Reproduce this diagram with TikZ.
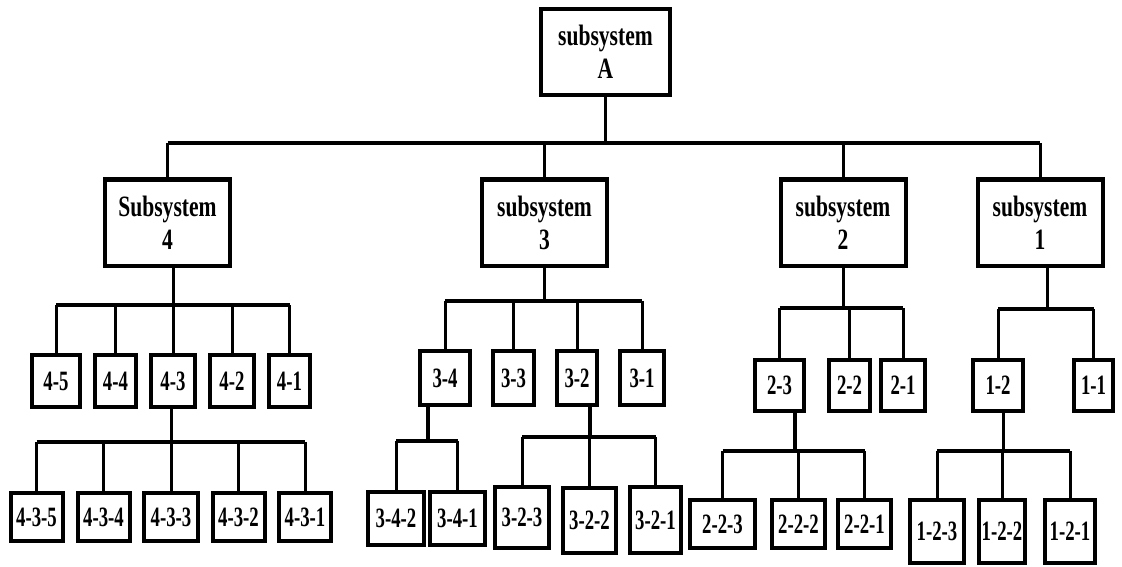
\documentclass[tikz,border=0pt]{standalone}
\usepackage{fontspec}
\newfontfamily\narrowfont[FakeStretch=0.73]{Liberation Serif}
\newfontfamily\slimfont[FakeStretch=0.67]{Liberation Serif}
\tikzset{
  bigbox/.style={draw, line width=4pt, minimum width=125pt, minimum height=86pt, inner sep=0pt,
    align=center, font=\narrowfont\bfseries\fontsize{29.5}{33}\selectfont},
  smallbox/.style={draw, line width=4pt, minimum width=44pt, minimum height=52pt, inner sep=0pt,
    font=\slimfont\bfseries\fontsize{28}{28}\selectfont},
  link/.style={line width=3pt},
  bus/.style={line width=4.5pt}
}
\begin{document}
\begin{tikzpicture}[x=1pt,y=-1pt]
  \useasboundingbox (0,0) rectangle (1122,567);
  %% top box
  \node[bigbox, minimum width=129pt] (sA) at (605.5,52) {subsystem\\A};
  %% subsystems
  \node[bigbox] (s4) at (167.5,222.5) {Subsystem\\4};
  \node[bigbox] (s3) at (544.5,222.5) {subsystem\\3};
  \node[bigbox] (s2) at (843,222.5) {subsystem\\2};
  \node[bigbox] (s1) at (1040,222.5) {subsystem\\1};
  %% second level
  \node[smallbox, minimum width=48pt] (b45) at (56,381) {4-5};
  \node[smallbox, minimum width=41pt] (b44) at (115.5,381) {4-4};
  \node[smallbox] (b43) at (173,381) {4-3};
  \node[smallbox] (b42) at (232,381) {4-2};
  \node[smallbox, minimum width=41pt] (b41) at (289.5,381) {4-1};
  \node[smallbox, minimum width=50pt, minimum height=54pt] (b34) at (445,378) {3-4};
  \node[smallbox, minimum width=41pt, minimum height=54pt] (b33) at (513.5,378) {3-3};
  \node[smallbox, minimum width=40pt, minimum height=54pt] (b32) at (577,378) {3-2};
  \node[smallbox, minimum height=54pt] (b31) at (642,378) {3-1};
  \node[smallbox, minimum width=49pt, minimum height=51pt] (b23) at (779.5,385.5) {2-3};
  \node[smallbox, minimum width=41pt, minimum height=51pt] (b22) at (849.5,385.5) {2-2};
  \node[smallbox, minimum height=51pt] (b21) at (903,385.5) {2-1};
  \node[smallbox, minimum width=50pt, minimum height=51pt] (b12) at (998,385.5) {1-2};
  \node[smallbox, minimum width=39pt, minimum height=51pt] (b11) at (1093.5,385.5) {1-1};
  %% third level
  \node[smallbox, minimum width=52pt, minimum height=48pt] (b435) at (36.5,517) {4-3-5};
  \node[smallbox, minimum width=52pt, minimum height=48pt] (b434) at (103.5,517) {4-3-4};
  \node[smallbox, minimum width=54pt, minimum height=48pt] (b433) at (171,517) {4-3-3};
  \node[smallbox, minimum width=52pt, minimum height=48pt] (b432) at (238.5,517) {4-3-2};
  \node[smallbox, minimum width=52pt, minimum height=48pt] (b431) at (305,517) {4-3-1};
  \node[smallbox, minimum width=56pt, minimum height=53pt] (b342) at (396,518.5) {3-4-2};
  \node[smallbox, minimum width=55pt, minimum height=53pt] (b341) at (457.5,518.5) {3-4-1};
  \node[smallbox, minimum width=54pt, minimum height=61pt] (b323) at (522,517.5) {3-2-3};
  \node[smallbox, minimum width=53pt, minimum height=65pt] (b322) at (589.5,520.5) {3-2-2};
  \node[smallbox, minimum width=51pt, minimum height=66pt] (b321) at (655.5,520) {3-2-1};
  \node[smallbox, minimum width=65pt, minimum height=48pt] (b223) at (722.5,524) {2-2-3};
  \node[smallbox, minimum width=53pt, minimum height=48pt] (b222) at (798.5,524) {2-2-2};
  \node[smallbox, minimum width=53pt, minimum height=48pt] (b221) at (864.5,524) {2-2-1};
  \node[smallbox, minimum width=54pt, minimum height=63pt] (b123) at (937,531.5) {1-2-3};
  \node[smallbox, minimum width=46pt, minimum height=63pt] (b122) at (1002,531.5) {1-2-2};
  \node[smallbox, minimum width=50pt, minimum height=63pt] (b121) at (1070,531.5) {1-2-1};
  %% junctions
  \coordinate (jA) at (605,143);
  \coordinate (j4) at (173,305);
  \coordinate (j3) at (544,301);
  \coordinate (j2) at (843,308);
  \coordinate (j1) at (1047,309);
  \coordinate (j43) at (171,442);
  \coordinate (j34) at (428,441);
  \coordinate (j32) at (590,437);
  \coordinate (j23) at (795,451);
  \coordinate (j12) at (1003,451);
  %% edges
  \draw[link] (jA |- sA.south) -- (jA);
  \draw[bus] (s4 |- jA) -- (s1 |- jA);
  \foreach \n in {s4,s3,s2,s1} \draw[link] (\n |- jA) -- (\n);
  \draw[link] (j4 |- s4.south) -- (j4);
  \draw[bus] (b45 |- j4) -- (b41 |- j4);
  \foreach \n in {b45,b44,b43,b42,b41} \draw[link] (\n |- j4) -- (\n);
  \draw[link] (j3 |- s3.south) -- (j3);
  \draw[bus] (b34 |- j3) -- (b31 |- j3);
  \foreach \n in {b34,b33,b32,b31} \draw[link] (\n |- j3) -- (\n);
  \draw[link] (j2 |- s2.south) -- (j2);
  \draw[bus] (b23 |- j2) -- (b21 |- j2);
  \foreach \n in {b23,b22,b21} \draw[link] (\n |- j2) -- (\n);
  \draw[link] (j1 |- s1.south) -- (j1);
  \draw[bus] (b12 |- j1) -- (b11 |- j1);
  \foreach \n in {b12,b11} \draw[link] (\n |- j1) -- (\n);
  \draw[link] (j43 |- b43.south) -- (j43);
  \draw[bus] (b435 |- j43) -- (b431 |- j43);
  \foreach \n in {b435,b434,b433,b432,b431} \draw[link] (\n |- j43) -- (\n);
  \draw[bus] (j34 |- b34.south) -- (j34);
  \draw[bus] (b342 |- j34) -- (b341 |- j34);
  \foreach \n in {b342,b341} \draw[link] (\n |- j34) -- (\n);
  \draw[bus] (j32 |- b32.south) -- (j32);
  \draw[bus] (b323 |- j32) -- (b321 |- j32);
  \foreach \n in {b323,b322,b321} \draw[link] (\n |- j32) -- (\n);
  \draw[bus] (j23 |- b23.south) -- (j23);
  \draw[bus] (b223 |- j23) -- (b221 |- j23);
  \foreach \n in {b223,b222,b221} \draw[link] (\n |- j23) -- (\n);
  \draw[link] (j12 |- b12.south) -- (j12);
  \draw[bus] (b123 |- j12) -- (b121 |- j12);
  \foreach \n in {b123,b122,b121} \draw[link] (\n |- j12) -- (\n);
\end{tikzpicture}
\end{document}
